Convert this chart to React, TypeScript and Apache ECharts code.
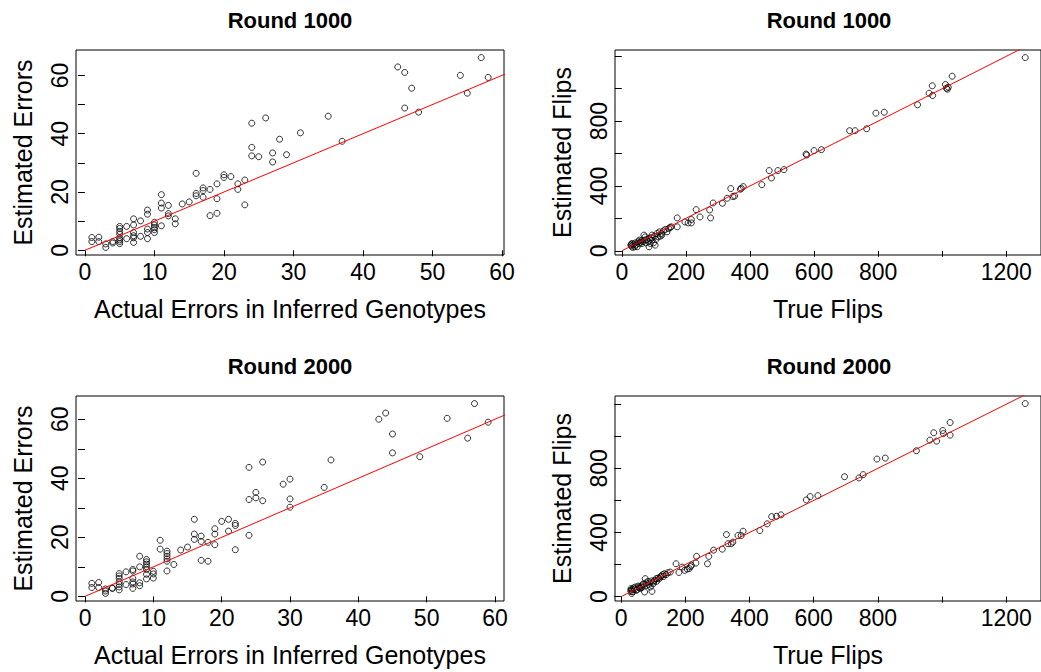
import React, { useEffect, useRef } from "react";
import * as echarts from "echarts";

const FONT = "'Liberation Sans', Arial, Helvetica, sans-serif";

// ---- Round 1000: actual vs estimated errors ----
const r1000ActualErrors = [1,1,2,2,3,3,4,4,5,5,5,5,5,5,5,5,6,6,7,7,7,7,7,7,8,8,9,9,9,9,9,10,10,10,10,10,11,11,11,11,12,12,12,13,13,14,15,16,16,16,17,17,17,18,18,19,19,19,20,20,21,22,22,23,23,24,24,24,25,26,27,27,28,29,31,35,37,45,46,46,47,48,54,55,57,58];
const r1000EstimatedErrors = [4.4,3.0,4.5,3.0,2.2,1.0,3.0,2.5,8.2,7.5,6.5,5.6,4.3,3.6,2.3,3.0,8.2,4.0,10.8,8.7,6.1,5.0,4.3,2.7,10.1,4.8,13.8,12.4,7.3,6.1,4.0,9.6,8.7,7.8,7.1,6.1,19.1,16.2,14.5,8.4,15.4,12.6,11.8,10.8,9.1,15.9,16.6,26.4,19.5,18.7,21.4,20.5,18.2,20.9,11.9,22.8,17.7,12.7,25.9,25.0,25.3,22.8,20.9,24.1,15.6,43.6,35.3,32.4,32.1,45.4,33.4,30.3,38.1,32.8,40.3,46.0,37.4,62.9,61.0,48.8,55.6,47.4,60.0,53.9,66.1,59.3];

// ---- Round 2000: actual vs estimated errors ----
const r2000ActualErrors = [1,1,2,2,3,3,3,4,4,5,5,5,5,5,5,5,6,6,7,7,7,7,7,7,8,8,8,8,9,9,9,9,9,9,9,10,10,10,11,11,12,12,12,12,12,12,13,14,15,16,16,16,17,17,17,18,18,19,19,19,20,21,21,22,22,22,24,24,24,25,25,26,26,29,30,30,30,35,36,43,44,45,45,49,53,56,57,59];
const r2000EstimatedErrors = [4.4,3.0,4.7,3.0,2.5,1.8,1.0,2.8,2.7,7.7,6.9,6.1,4.9,4.1,3.2,2.2,8.3,4.0,9.1,8.6,6.1,4.9,4.2,2.7,13.6,10.0,4.6,3.6,12.5,11.7,10.9,10.0,9.1,7.5,5.9,8.5,7.6,6.2,19.0,16.0,15.3,14.5,13.6,12.7,11.9,8.6,10.8,15.7,16.7,26.1,21.1,19.3,20.4,18.6,12.2,18.3,11.9,22.9,21.1,17.5,25.4,26.1,22.1,24.7,24.0,15.8,43.7,32.8,20.7,35.2,33.4,45.5,32.4,38.0,39.7,33.0,30.2,36.9,46.2,60.0,62.1,55.0,48.6,47.3,60.3,53.6,65.3,59.0];

// ---- Round 1000: true vs estimated flips ----
const r1000TrueFlips = [28,30,32,31,37,42,44,51,53,58,61,65,69,73,71,78,85,84,86,92,94,99,102,104,110,113,117,123,125,130,136,141,146,151,154,94,89,63,48,34,40,55,75,120,107,
  173,173,197,207,217,217,232,244,274,277,285,314,329,340,347,352,370,373,379,437,460,467,487,506,575,577,600,623,711,728,764,793,819,923,959,969,970,1010,1013,1016,1019,1031,1259];
const r1000EstimatedFlips = [35,41,45,29,39,49,35,56,45,52,62,56,97,86,66,70,25,56,76,82,66,49,90,35,107,86,117,107,97,123,132,117,138,144,148,97,45,45,25,21,25,66,49,90,70,
  203,148,178,172,193,172,254,209,252,203,295,293,324,384,335,338,380,386,396,408,495,449,495,501,597,591,618,624,741,741,753,849,855,901,972,1018,958,1026,1003,997,1009,1077,1192];

// ---- Round 2000: true vs estimated flips ----
const r2000TrueFlips = [30,31,34,39,44,47,53,57,63,67,73,75,78,84,86,91,96,101,104,109,115,122,129,135,140,146,153,31,33,36,42,50,55,60,65,70,80,88,95,100,110,118,125,132,
  171,180,190,198,206,212,216,219,235,233,269,273,288,315,328,333,343,348,364,374,380,432,455,469,484,498,577,589,613,696,741,754,797,823,920,962,974,983,1002,1004,1025,1025,1259];
const r2000EstimatedFlips = [39,50,45,54,60,39,66,54,66,74,29,112,87,95,74,60,33,91,101,112,116,122,137,143,137,149,153,32,20,30,47,44,60,52,58,80,70,85,98,80,95,110,128,125,
  205,151,184,164,172,175,187,195,251,209,205,251,290,296,387,330,330,340,381,381,408,412,454,499,501,510,603,624,630,748,740,761,858,864,910,976,1022,970,1036,1017,1086,1007,1204];

// ---- axis ticks and labels ----
const errorTicks = [0, 10, 20, 30, 40, 50, 60];
const errorXLabels = [0, 10, 20, 30, 40, 50, 60];
const errorYLabels = [0, 20, 40, 60];
const flipTicks = [0, 200, 400, 600, 800, 1000, 1200];
const flipXLabels = [0, 200, 400, 600, 800, 1200];
const flipYLabels = [0, 400, 800];

const titles = ["Round 1000", "Round 1000", "Round 2000", "Round 2000"];
const xNames = ["Actual Errors in Inferred Genotypes", "True Flips", "Actual Errors in Inferred Genotypes", "True Flips"];
const yNames = ["Estimated Errors", "Estimated Flips", "Estimated Errors", "Estimated Flips"];

function rRange(vals: number[]): [number, number] {
  const mn = Math.min(...vals);
  const mx = Math.max(...vals);
  const d = (mx - mn) * 0.04;
  return [mn - d, mx + d];
}

const panelData = [
  { xs: r1000ActualErrors, ys: r1000EstimatedErrors, xt: errorTicks, xl: errorXLabels, yt: errorTicks, yl: errorYLabels },
  { xs: r1000TrueFlips, ys: r1000EstimatedFlips, xt: flipTicks, xl: flipXLabels, yt: flipTicks, yl: flipYLabels },
  { xs: r2000ActualErrors, ys: r2000EstimatedErrors, xt: errorTicks, xl: errorXLabels, yt: errorTicks, yl: errorYLabels },
  { xs: r2000TrueFlips, ys: r2000EstimatedFlips, xt: flipTicks, xl: flipXLabels, yt: flipTicks, yl: flipYLabels },
];

const layout = [
  { left: 76, top: 50 },
  { left: 615, top: 50 },
  { left: 76, top: 396 },
  { left: 615, top: 396 },
];
const GW = 428;
const GH = 205;

const plain = (v: number) => String(v);

function buildOption() {
  const grid: any[] = [];
  const xAxis: any[] = [];
  const yAxis: any[] = [];
  const series: any[] = [];
  const graphic: any[] = [];
  panelData.forEach((p, i) => {
    const L = layout[i];
    const [x0, x1] = rRange(p.xs);
    const [y0, y1] = rRange(p.ys);
    grid.push({
      left: L.left, top: L.top, width: GW, height: GH,
      show: true, borderColor: "#000", borderWidth: 1, backgroundColor: "transparent",
    });
    xAxis.push({
      type: "value", gridIndex: i, min: x0, max: x1,
      axisLine: { show: false },
      splitLine: { show: false },
      axisTick: { show: true, customValues: p.xt, length: 6, lineStyle: { color: "#000", width: 1 } },
      axisLabel: { customValues: p.xl, formatter: plain, margin: 5, fontSize: 23, color: "#000", fontFamily: FONT },
      name: xNames[i], nameLocation: "middle", nameGap: 41,
      nameTextStyle: { fontSize: 25, color: "#000", fontFamily: FONT },
    });
    yAxis.push({
      type: "value", gridIndex: i, min: y0, max: y1,
      axisLine: { show: false },
      splitLine: { show: false },
      axisTick: { show: true, customValues: p.yt, length: 7, lineStyle: { color: "#000", width: 1 } },
      axisLabel: { customValues: p.yl, formatter: plain, margin: 5, rotate: 90, fontSize: 23, color: "#000", fontFamily: FONT },
      name: yNames[i], nameLocation: "middle", nameGap: 41,
      nameTextStyle: { fontSize: 25, color: "#000", fontFamily: FONT },
    });
    series.push({
      type: "scatter", xAxisIndex: i, yAxisIndex: i,
      data: p.xs.map((x, k) => [x, p.ys[k]]),
      symbol: "circle", symbolSize: 6,
      itemStyle: { color: "rgba(0,0,0,0)", borderColor: "#000", borderWidth: 1 },
      silent: true,
    });
    // identity line y = x, from the origin to beyond the plot region (clipped)
    const hi = Math.max(x1, y1);
    series.push({
      type: "line", xAxisIndex: i, yAxisIndex: i,
      data: [[0, 0], [hi, hi]],
      symbol: "none", clip: true, silent: true,
      lineStyle: { color: "#ff0000", width: 1 },
    });
    graphic.push({
      type: "text", x: L.left + GW / 2, y: L.top - 30,
      style: { text: titles[i], font: `bold 22px ${FONT}`, fill: "#000", align: "center", verticalAlign: "middle" },
    });
  });
  return { animation: false, backgroundColor: "#fff", grid, xAxis, yAxis, series, graphic };
}

export default function App() {
  const ref = useRef<HTMLDivElement>(null);
  useEffect(() => {
    if (!ref.current) return;
    const chart = echarts.init(ref.current, undefined, { renderer: "svg" });
    chart.setOption(buildOption() as any);
    return () => chart.dispose();
  }, []);
  return (
    <div
      ref={ref}
      style={{ position: "fixed", left: 0, top: 0, width: 1041, height: 672, background: "#fff" }}
    />
  );
}
